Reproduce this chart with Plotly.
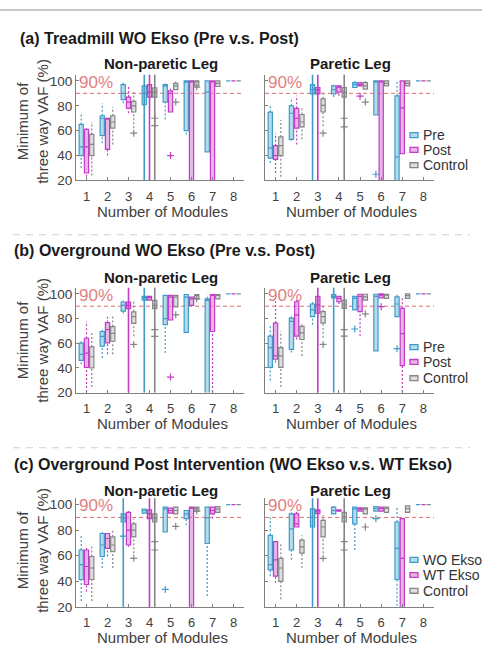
import plotly.graph_objects as go

W, H = 482, 654
FONT = "Liberation Sans, Arial, sans-serif"

modules = [1, 2, 3, 4, 5, 6, 7, 8]
y_ticks = [20, 40, 60, 80, 100]
threshold = 90

section_titles = ["(a) Treadmill WO Ekso (Pre v.s. Post)",
                  "(b) Overground WO Ekso (Pre v.s. Post)",
                  "(c) Overground Post Intervention (WO Ekso v.s. WT Ekso)"]
leg_titles = ["Non-paretic Leg", "Paretic Leg"]
legend_ab = ["Pre", "Post", "Control"]
legend_c = ["WO Ekso", "WT Ekso", "Control"]
x_title = "Number of Modules"
y_title = "Minimum of<br>three way VAF (%)"

# ---------------- (a) Treadmill, Non-paretic ----------------
a_np_g1 = dict(lo=[30, 50, 82, 80, 69, 57, 43, 100], q1=[40, 56, 85, 81, 83, 60, 43, 100],
               med=[47, 70, 90, 90, 96, 99, 91, 100], q3=[65, 72, 97, 96, 97, 100, 100, 100],
               hi=[74, 82, 100, 96, 98, 100, 100, 100])
a_np_g2 = dict(lo=[23, 40, 74, 87, 75, 0, 0, 100], q1=[26, 45, 78, 87, 75, 0, 0, 100],
               med=[47, 70, 83, 91, 90, 100, 100, 100], q3=[61, 70, 87, 97, 92, 100, 100, 100],
               hi=[62, 70, 95, 97, 95, 100, 100, 100])
a_np_g3 = dict(lo=[24, 49, 62, 87, 93, 96, 95, 100], q1=[40, 62, 75, 87, 93, 96, 95.5, 100],
               med=[49, 67, 80, 91, 96, 100, 98, 100], q3=[57, 72, 83.5, 94.5, 98, 100, 100, 100],
               hi=[67, 79, 91, 94.5, 100, 100, 100, 100])
a_np_out = [[], [(5, 40)], [(3, 58), (4, 70), (4, 64), (5, 83), (6, 95)]]
a_np_full = [[4], [4], [4]]

# ---------------- (a) Treadmill, Paretic ----------------
a_p_g1 = dict(lo=[34, 52, 89, 87, 94.7, 72.6, 0, 100], q1=[38, 53, 89.5, 89.5, 94.7, 72.6, 0, 100],
              med=[46, 74, 93, 93, 97, 99, 39, 100], q3=[74.9, 80, 97, 96, 98.6, 100, 88, 100],
              hi=[80, 85.6, 97, 97, 100, 100, 100, 100])
a_p_g2 = dict(lo=[26, 49, 89.5, 88, 96, 0, 41.5, 100], q1=[37, 62, 89.5, 91, 96, 0, 41.5, 100],
              med=[40, 70, 93, 95, 97, 100, 78.3, 100], q3=[48, 78, 94.7, 96, 98.6, 100, 100, 100],
              hi=[58, 88, 94.7, 96, 98.6, 100, 100, 100])
a_p_g3 = dict(lo=[23, 53, 63.5, 87, 93.4, 96, 96, 100], q1=[40, 63, 75, 87, 93.4, 96, 96, 100],
              med=[48, 67, 80.4, 91, 96, 98, 98, 100], q3=[55, 73, 85.6, 94.7, 98.6, 100, 100, 100],
              hi=[68.6, 78, 90.8, 94.7, 100, 100, 100, 100])
a_p_out = [[(6, 25)], [(5, 87.7)], [(3, 58), (4, 70), (4, 63), (5, 83)]]
a_p_full = [[3], [3], [4]]

# ---------------- (b) Overground, Non-paretic ----------------
b_np_g1 = dict(lo=[43, 48, 84, 95, 52, 68.7, 0, 100], q1=[46, 57.6, 86, 95, 75, 68.7, 0, 100],
               med=[51, 65.6, 90.7, 97, 80, 97.4, 94.7, 100], q3=[60, 69.5, 93.4, 98, 98.7, 99.5, 96, 100],
               hi=[62, 71, 94.7, 98, 98.7, 99.5, 99.5, 100])
b_np_g2 = dict(lo=[20.5, 51, 88, 95, 97.4, 90.7, 20.5, 100], q1=[40.4, 60.3, 88, 95, 78.8, 90.7, 69.5, 100],
               med=[52, 71, 90.7, 97, 97.4, 96, 98.7, 100], q3=[64, 76.7, 93.4, 98, 98.7, 97.4, 99.5, 100],
               hi=[77.5, 81.5, 93.4, 98, 98.7, 97.4, 99.5, 100])
b_np_g3 = dict(lo=[24.5, 51, 65.6, 88, 89.4, 96, 96, 100], q1=[40, 61.6, 76, 88, 89.4, 96, 96, 100],
               med=[49, 68, 81.5, 90.7, 97.4, 99.5, 98.7, 100], q3=[57, 73.5, 85.4, 94.7, 98.7, 99.5, 99.5, 100],
               hi=[69.5, 83, 94.7, 94.7, 98.7, 99.5, 99.5, 100])
b_np_out = [[], [(5, 32.5)], [(3, 59), (4, 71), (4, 65.6), (5, 83), (6, 96)]]
b_np_full = [[4], [3], [4]]

# ---------------- (b) Overground, Paretic ----------------
b_p_g1 = dict(lo=[29.8, 52.4, 75, 96.8, 87, 53.7, 81.6, 100], q1=[40.4, 55, 81.6, 96.8, 87, 53.7, 81.6, 100],
              med=[56.4, 77.7, 87, 98, 96.3, 98, 91.8, 100], q3=[65.7, 80.3, 91.8, 99.5, 98, 99.7, 97.6, 100],
              hi=[73.7, 83, 95, 99.5, 98, 99.7, 99.5, 100])
b_p_g2 = dict(lo=[44.4, 63, 84.3, 91.8, 65.7, 96.8, 20.5, 100], q1=[47, 65.7, 84.3, 93.6, 85.6, 96.8, 41.8, 100],
              med=[49.7, 83, 91, 96.3, 98, 99, 67.8, 100], q3=[76.3, 93.6, 98, 98, 99.7, 100, 88.3, 100],
              hi=[94, 95, 98, 98, 99.7, 100, 97.6, 100])
b_p_g3 = dict(lo=[24.5, 49.7, 64.4, 88.3, 95, 96.3, 96.3, 100], q1=[40.4, 63, 76.3, 88.3, 95, 96.3, 96.3, 100],
              med=[49.7, 68.4, 81.6, 91.8, 97.6, 99, 98.5, 100], q3=[56.4, 73.7, 85.6, 95, 99.7, 99.7, 100, 100],
              hi=[69.7, 76.3, 92, 95, 99.7, 99.7, 100, 100])
b_p_out = [[(5, 71.5), (7, 55.6)], [(6, 89.6)], [(3, 59), (4, 71), (4, 65.7), (5, 83.8)]]
b_p_full = [[4], [3], [4]]

# ---------------- (c) Post intervention, Non-paretic ----------------
c_np_g1 = dict(lo=[24.6, 50.4, 86.4, 93.3, 78.6, 83.8, 28.5, 100], q1=[41.4, 59.4, 86.4, 93.3, 78.6, 89, 69.6, 100],
               med=[53, 68.4, 89.7, 95.4, 96.7, 92.8, 89.7, 100], q3=[64.5, 77.4, 92.8, 96.6, 98, 95.4, 98, 100],
               hi=[76, 78.6, 92.8, 96.6, 98, 95.4, 98, 100])
c_np_g2 = dict(lo=[32, 59.4, 67, 89, 93.3, 0, 89, 100], q1=[37.5, 65.8, 68.4, 89, 93.3, 0, 92.8, 100],
               med=[51.6, 73.5, 80, 92.8, 95.4, 98, 95.4, 100], q3=[64.5, 77.4, 94, 95.9, 97.2, 98, 98, 100],
               hi=[67, 77.4, 95, 95.9, 97.2, 98, 98, 100])
c_np_g3 = dict(lo=[24.6, 50.4, 62, 86.4, 92.8, 94.9, 94, 100], q1=[41.4, 63.2, 74.8, 86.4, 92.8, 94.9, 94, 100],
               med=[50.4, 68.4, 80, 89.7, 95.4, 97, 96.5, 100], q3=[59.4, 74.8, 85, 92.8, 98, 98, 98.5, 100],
               hi=[68.4, 80, 89, 92.8, 98, 98, 98.5, 100])
c_np_out = [[(3, 75.3), (5, 33.6)], [], [(3, 58), (4, 71), (4, 64.5), (5, 83), (6, 95)]]
c_np_full = [[3], [4], [4]]

# ---------------- (c) Post intervention, Paretic ----------------
c_p_g1 = dict(lo=[44, 56.8, 82.5, 92.8, 64.5, 94.9, 20.8, 100], q1=[49, 64.5, 82.5, 92.8, 85, 94.9, 41.4, 100],
              med=[53, 81, 90, 95.4, 96.7, 97, 65.8, 100], q3=[76, 92.8, 96.7, 98, 98, 98.5, 86.4, 100],
              hi=[91.5, 94, 96.7, 99, 98, 98.5, 98, 100])
c_p_g2 = dict(lo=[38.8, 82.5, 93, 94.9, 94.9, 94.9, 0, 100], q1=[44, 82.5, 93, 94.9, 94.9, 94.9, 0, 100],
              med=[56.8, 85, 95, 95.5, 96.5, 97, 58, 100], q3=[71, 92.8, 96, 96, 97.4, 98, 89, 100],
              hi=[71, 95, 96, 96, 97.4, 98, 89, 100])
c_p_g3 = dict(lo=[26, 50.4, 62, 86.4, 92.8, 94, 94, 100], q1=[40, 62, 74.8, 86.4, 92.8, 94, 94, 100],
              med=[50.4, 67, 82.5, 90.2, 96.5, 97, 97, 100], q3=[58, 72.2, 87.7, 94, 97.4, 98, 99, 100],
              hi=[69.6, 76, 91.8, 94, 97.4, 98, 99, 100])
c_p_out = [[(6, 89)], [], [(3, 58), (4, 71), (4, 64.5), (5, 82.5)]]
c_p_full = [[3], [3], [4]]

# ---------------- styling / layout (pixels) ----------------
group_offset = [-0.25, 0.0, 0.25]
edge = ["#3f9cc9", "#c23cc4", "#858585"]
fill = ["rgba(120,190,222,0.55)", "rgba(214,120,214,0.55)", "rgba(200,200,200,0.6)"]
col_px = [(76, 244), (265, 434)]
row_px = [(74.7, 182), (290.7, 397), (504.2, 614.3)]
sec_px = [(18, 38), (12, 253), (12, 470)]
ptitle_y = [63, 280, 496]
ytitle_y = [122, 344, 557]
legend_y = [(136, 151, 166.5), (351, 366, 382.5), (566.7, 582, 598)]

panels = [
    (0, 0, [a_np_g1, a_np_g2, a_np_g3], a_np_out, a_np_full),
    (0, 1, [a_p_g1, a_p_g2, a_p_g3], a_p_out, a_p_full),
    (1, 0, [b_np_g1, b_np_g2, b_np_g3], b_np_out, b_np_full),
    (1, 1, [b_p_g1, b_p_g2, b_p_g3], b_p_out, b_p_full),
    (2, 0, [c_np_g1, c_np_g2, c_np_g3], c_np_out, c_np_full),
    (2, 1, [c_p_g1, c_p_g2, c_p_g3], c_p_out, c_p_full),
]


def px(x):
    return x / W


def py(y):
    return 1 - y / H


fig = go.Figure()
layout = dict(width=W, height=H, margin=dict(l=0, r=0, t=0, b=0),
              paper_bgcolor="white", plot_bgcolor="white", showlegend=False,
              font=dict(family=FONT, color="#333333"), boxmode="overlay")
shapes, annotations = [], []

for k, (r, c, groups, outs, fulls) in enumerate(panels, start=1):
    xa = "xaxis" if k == 1 else f"xaxis{k}"
    ya = "yaxis" if k == 1 else f"yaxis{k}"
    xr = "x" if k == 1 else f"x{k}"
    yr = "y" if k == 1 else f"y{k}"
    x0p, x1p = col_px[c]
    ytop, ybot = row_px[r]
    layout[xa] = dict(domain=[px(x0p), px(x1p)], anchor=yr, range=[0.5, 8.5],
                      tickvals=modules, ticks="inside", ticklen=3, tickcolor="#808080",
                      showline=True, linecolor="#808080", linewidth=1, showgrid=False,
                      zeroline=False, tickfont=dict(size=13, color="#404040"),
                      ticklabelstandoff=4, fixedrange=True)
    layout[ya] = dict(domain=[py(ybot), py(ytop)], anchor=xr, range=[20, 105],
                      tickvals=y_ticks, ticks="inside", ticklen=3, tickcolor="#808080",
                      showline=True, linecolor="#808080", linewidth=1, showgrid=False,
                      zeroline=False, showticklabels=(c == 0),
                      tickfont=dict(size=13.5, color="#404040"), fixedrange=True)

    # 90% threshold line and label
    shapes.append(dict(type="line", xref=f"{xr} domain", yref=yr, x0=0, x1=1,
                       y0=threshold, y1=threshold, layer="below",
                       line=dict(color="rgb(222,110,110)", width=1, dash="4px,3px")))
    annotations.append(dict(xref=xr, yref=yr, x=0.57, y=99, text=f"{threshold}%",
                            showarrow=False, xanchor="left", yanchor="middle",
                            font=dict(size=17, color="rgb(226,128,128)", family=FONT)))

    for g, d in enumerate(groups):
        pos = [m + group_offset[g] for m in modules]
        # full-height solid lines
        for m in fulls[g]:
            shapes.append(dict(type="line", xref=xr, yref=f"{yr} domain",
                               x0=m + group_offset[g], x1=m + group_offset[g], y0=0, y1=1,
                               layer="above", line=dict(color=edge[g], width=1.6)))
        # dotted whiskers
        wx, wy = [], []
        for i, p in enumerate(pos):
            if d["lo"][i] < d["q1"][i]:
                wx += [p, p, None]
                wy += [d["lo"][i], d["q1"][i], None]
            if d["hi"][i] > d["q3"][i]:
                wx += [p, p, None]
                wy += [d["q3"][i], d["hi"][i], None]
        fig.add_trace(go.Scatter(x=wx, y=wy, mode="lines", xaxis=xr, yaxis=yr,
                                 line=dict(color=edge[g], width=1.2, dash="2px,2px"),
                                 hoverinfo="skip", showlegend=False))
        # boxes
        fig.add_trace(go.Box(x=pos, q1=d["q1"], median=d["med"], q3=d["q3"],
                             lowerfence=d["q1"], upperfence=d["q3"], width=0.2,
                             whiskerwidth=0, boxpoints=False, fillcolor=fill[g],
                             line=dict(color=edge[g], width=1.2), xaxis=xr, yaxis=yr,
                             showlegend=False))
        # outliers
        if outs[g]:
            fig.add_trace(go.Scatter(x=[m + group_offset[g] for m, _ in outs[g]],
                                     y=[v for _, v in outs[g]], mode="markers",
                                     xaxis=xr, yaxis=yr, showlegend=False,
                                     marker=dict(symbol="cross-thin", size=5,
                                                 line=dict(color=edge[g], width=1.2))))

    # panel title
    annotations.append(dict(xref="paper", yref="paper", x=px((x0p + x1p) / 2 + 1), y=py(ptitle_y[r]),
                            text=f"<b>{leg_titles[c]}</b>", showarrow=False, xanchor="center",
                            yanchor="middle", font=dict(size=15, color="#1a1a1a", family=FONT)))
    # x title
    annotations.append(dict(xref="paper", yref="paper", x=px((x0p + x1p) / 2 + 2), y=py(ybot + 31.5),
                            text=x_title, showarrow=False, xanchor="center", yanchor="middle",
                            font=dict(size=15, color="#404040", family=FONT)))
    # y title
    if c == 0:
        annotations.append(dict(xref="paper", yref="paper", x=px(32.5), y=py(ytitle_y[r]),
                                text=y_title, showarrow=False, textangle=-90,
                                xanchor="center", yanchor="middle",
                                font=dict(size=15, color="#404040", family=FONT)))

# section titles
for r in range(3):
    sx, sy = sec_px[r]
    annotations.append(dict(xref="paper", yref="paper", x=px(sx), y=py(sy),
                            text=f"<b>{section_titles[r]}</b>", showarrow=False,
                            xanchor="left", yanchor="middle",
                            font=dict(size=16, color="#1a1a1a", family=FONT)))

# legends (drawn manually to match compact spacing)
for r in range(3):
    labels = legend_c if r == 2 else legend_ab
    for g, lab in enumerate(labels):
        yc = legend_y[r][g]
        shapes.append(dict(type="rect", xref="paper", yref="paper",
                           x0=px(410), x1=px(418), y0=py(yc + 2.5), y1=py(yc - 2.5),
                           line=dict(color=edge[g], width=1.3), fillcolor=fill[g]))
        annotations.append(dict(xref="paper", yref="paper", x=px(421), y=py(yc),
                                text=lab, showarrow=False, xanchor="left", yanchor="middle",
                                font=dict(size=14, color="#333333", family=FONT)))

# separators
shapes.append(dict(type="line", xref="paper", yref="paper", x0=0, x1=1, y0=py(9), y1=py(9),
                   line=dict(color="#c8c8c8", width=2)))
for ys in (237, 453):
    shapes.append(dict(type="line", xref="paper", yref="paper", x0=px(13), x1=px(470),
                       y0=py(ys), y1=py(ys), line=dict(color="#cfcfcf", width=1.2, dash="7px,6px")))

layout["shapes"] = shapes
layout["annotations"] = annotations
fig.update_layout(**layout)
fig.write_html("out.html")
